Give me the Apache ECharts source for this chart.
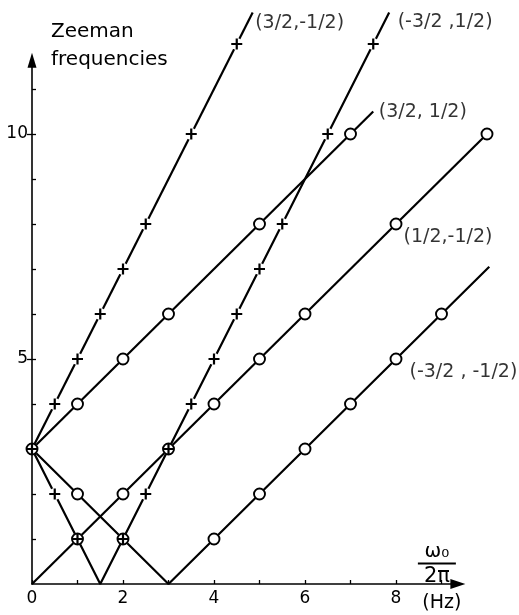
<!DOCTYPE html>
<html>
<head>
<meta charset="utf-8">
<script src="https://cdn.jsdelivr.net/npm/echarts@6/dist/echarts.min.js"></script>
<style>
  html, body { margin: 0; padding: 0; background: #fff; }
  #chart { width: 519px; height: 615px; }
</style>
</head>
<body>
<div id="chart"></div>
<script>
// Zeeman frequencies of the (m, m') transitions against ω0/2π in Hz.

// axis ticks and labels
const xTicks = [0, 1, 2, 3, 4, 5, 6, 7, 8, 9];
const xLabelValues = [0, 2, 4, 6, 8];
const yTicks = [1, 2, 3, 4, 5, 6, 7, 8, 9, 10, 11];
const yLabelValues = [5, 10];

// line paths of each transition (x in Hz, y in Hz)
const lineA = [[0, 3], [4.85, 12.7]];               // (3/2,-1/2)
const lineB = [[0, 3], [1.5, 0], [7.85, 12.7]];     // (-3/2,1/2)
const lineC = [[0, 3], [7.5, 10.5]];                // (3/2,1/2)
const lineD = [[0, 0], [10, 10]];                   // (1/2,-1/2)
const lineE = [[0, 3], [3, 0], [10.05, 7.05]];      // (-3/2,-1/2)

// measured points: crosses on A and B, rings on C, D and E
const crossA = [[0.5, 4], [1, 5], [1.5, 6], [2, 7], [2.5, 8], [3.5, 10], [4.5, 12]];
const crossB = [[0, 3], [0.5, 2], [1, 1], [2, 1], [2.5, 2], [3, 3], [3.5, 4], [4, 5],
                [4.5, 6], [5, 7], [5.5, 8], [6.5, 10], [7.5, 12]];
const ringC = [[1, 4], [2, 5], [3, 6], [5, 8], [7, 10]];
const ringD = [[1, 1], [2, 2], [3, 3], [4, 4], [5, 5], [6, 6], [8, 8], [10, 10]];
const ringE = [[0, 3], [1, 2], [2, 1], [4, 1], [5, 2], [6, 3], [7, 4], [8, 5], [9, 6]];

// curve names
const nameA = '(3/2,-1/2)';
const nameB = '(-3/2 ,1/2)';
const nameC = '(3/2, 1/2)';
const nameD = '(1/2,-1/2)';
const nameE = '(-3/2 , -1/2)';

const INK = '#000';
const FONT = 'DejaVu Sans';
const PLUS = 'path://M4,0H6V4H10V6H6V10H4V6H0V4H4Z';

// drawing scale and frame
const PX_X = 45.5, PX_Y = 45;          // pixels per Hz
const LEFT = 32, BOTTOM = 31;
const X_AXIS_MAX = 9.36, Y_AXIS_MAX = 11.64;   // visible axis lengths (arrow bases)
const X_DATA_MAX = 10.3, Y_DATA_MAX = 12.9;    // room for the curves

function frame(xMax, yMax) {
  return { left: LEFT, bottom: BOTTOM, width: xMax * PX_X, height: yMax * PX_Y, containLabel: false };
}

function pathSeries(data) {
  return {
    type: 'line', data: data, xAxisIndex: 1, yAxisIndex: 2,
    symbol: 'none', showSymbol: false, clip: false,
    lineStyle: { color: INK, width: 2.2 }, z: 2, silent: true
  };
}
function haloSeries(data) {
  return {
    type: 'scatter', data: data, xAxisIndex: 1, yAxisIndex: 2,
    symbol: 'circle', symbolSize: 12, clip: false,
    itemStyle: { color: '#fff', opacity: 1 }, z: 3, silent: true
  };
}
function ringSeries(data) {
  return {
    type: 'scatter', data: data, xAxisIndex: 1, yAxisIndex: 2,
    symbol: 'circle', symbolSize: 11, clip: false,
    itemStyle: { color: '#fff', borderColor: INK, borderWidth: 1.9, opacity: 1 }, z: 4, silent: true
  };
}
function crossSeries(data) {
  return {
    type: 'scatter', data: data, xAxisIndex: 1, yAxisIndex: 2,
    symbol: PLUS, symbolSize: 11, clip: false,
    itemStyle: { color: INK, opacity: 1 }, z: 5, silent: true
  };
}
function nameSeries(point, text, distance, dy) {
  return {
    type: 'scatter', data: [point], xAxisIndex: 1, yAxisIndex: 2,
    symbolSize: 1, clip: false,
    itemStyle: { color: 'rgba(0,0,0,0)' }, z: 6, silent: true,
    label: {
      show: true, position: 'right', distance: distance, offset: [0, dy],
      formatter: text, color: INK, fontFamily: FONT, fontSize: 19
    }
  };
}
const last = arr => arr[arr.length - 1];
const findPoint = (arr, x) => arr.find(p => p[0] === x);

const axisLineStyle = { color: INK, width: 1.6 };
const tickStyle = { color: INK, width: 1.3 };

const option = {
  animation: false,
  backgroundColor: '#fff',
  title: {
    text: 'Zeeman\nfrequencies',
    left: 46, top: 13,
    textStyle: { fontFamily: FONT, fontSize: 20, fontWeight: 'normal', lineHeight: 28, color: INK }
  },
  grid: [frame(X_AXIS_MAX, Y_AXIS_MAX), frame(X_DATA_MAX, Y_DATA_MAX)],
  xAxis: [
    {
      type: 'value', gridIndex: 0, min: 0, max: X_AXIS_MAX, interval: 1,
      axisLine: { show: true, lineStyle: axisLineStyle, symbol: ['none', 'triangle'], symbolSize: [10, 15] },
      axisTick: { show: true, inside: true, length: 4, lineStyle: tickStyle, customValues: xTicks },
      axisLabel: { customValues: xLabelValues, margin: 6, color: INK, fontFamily: FONT, fontSize: 17 },
      splitLine: { show: false },
      name: '{w|ω₀}\n{bar|}\n{p|2π}\n{gap|}\n{h|(Hz)}',
      nameLocation: 'end',
      nameGap: -21,
      nameTextStyle: {
        align: 'center', verticalAlign: 'middle', padding: [0, 0, 12, 0],
        color: INK, fontFamily: FONT,
        rich: {
          w: { fontSize: 20, lineHeight: 18, fontFamily: FONT, color: INK },
          bar: { width: 38, height: 2, lineHeight: 6, backgroundColor: INK },
          p: { fontSize: 21, lineHeight: 20, fontFamily: FONT, color: INK },
          gap: { fontSize: 6, lineHeight: 6 },
          h: { fontSize: 19, lineHeight: 21, fontFamily: FONT, color: INK, padding: [0, 0, 0, 10] }
        }
      }
    },
    { type: 'value', gridIndex: 1, min: 0, max: X_DATA_MAX, show: false, splitLine: { show: false } }
  ],
  yAxis: [
    {
      type: 'value', gridIndex: 0, min: 0, max: Y_AXIS_MAX, interval: 1,
      axisLine: { show: true, lineStyle: axisLineStyle, symbol: ['none', 'triangle'], symbolSize: [9, 15] },
      axisTick: { show: true, inside: true, length: 4, lineStyle: tickStyle, customValues: yTicks },
      axisLabel: { show: false },
      splitLine: { show: false }
    },
    {
      type: 'value', gridIndex: 0, position: 'left', min: 0, max: Y_AXIS_MAX, interval: 5,
      axisLine: { show: false },
      axisTick: { show: true, inside: false, length: 5, lineStyle: tickStyle, customValues: yLabelValues },
      axisLabel: { customValues: yLabelValues, margin: 4, color: INK, fontFamily: FONT, fontSize: 17 },
      splitLine: { show: false }
    },
    { type: 'value', gridIndex: 1, min: 0, max: Y_DATA_MAX, show: false, splitLine: { show: false } }
  ],
  series: [
    pathSeries(lineA), pathSeries(lineB), pathSeries(lineC), pathSeries(lineD), pathSeries(lineE),
    haloSeries(crossA), haloSeries(crossB),
    ringSeries(ringC), ringSeries(ringD), ringSeries(ringE),
    crossSeries(crossA), crossSeries(crossB),
    nameSeries(last(lineA), nameA, 2, 11),
    nameSeries(last(lineB), nameB, 8, 10),
    nameSeries(last(lineC), nameC, 5, 1),
    nameSeries(findPoint(ringD, 8), nameD, 7, 13),
    nameSeries(findPoint(ringE, 8), nameE, 13, 13)
  ]
};

echarts.init(document.getElementById('chart')).setOption(option);
</script>
</body>
</html>
